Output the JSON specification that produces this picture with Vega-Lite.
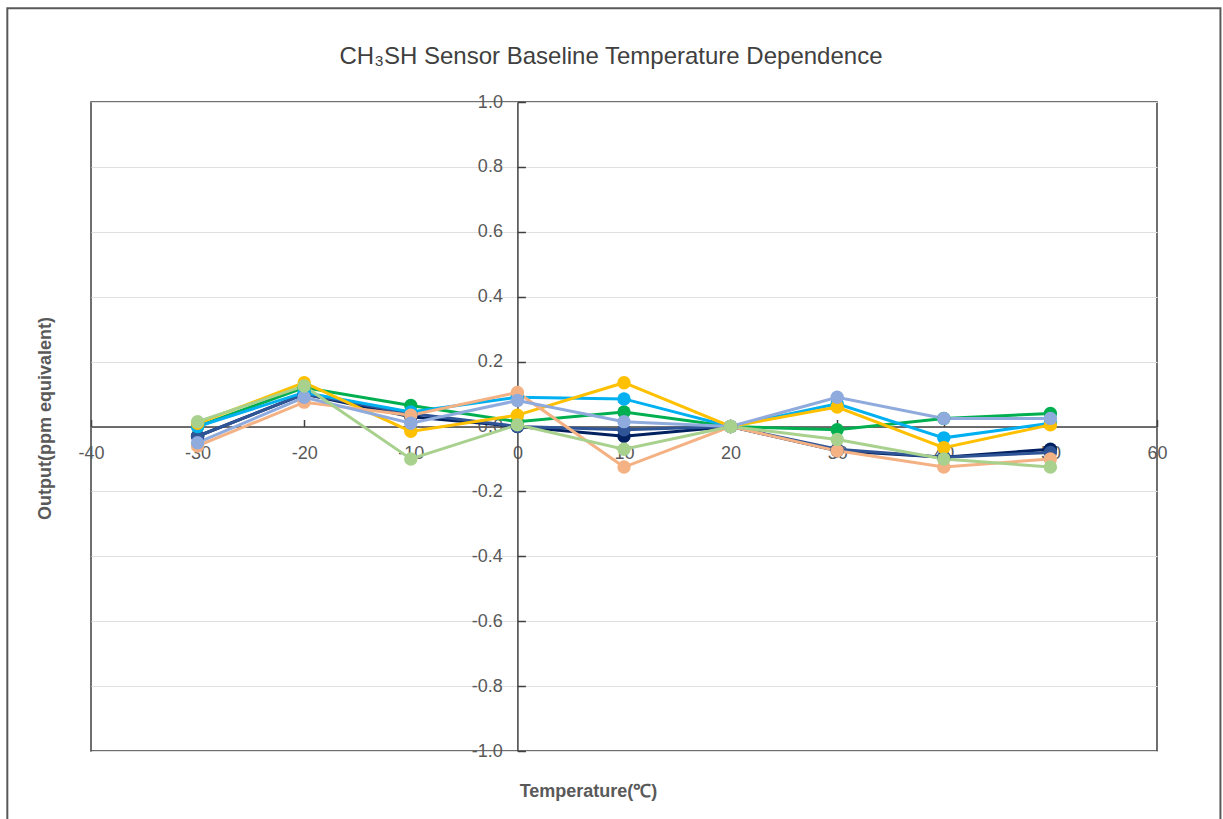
{
  "$schema": "https://vega.github.io/schema/vega-lite/v6.json",
  "width": 1066,
  "height": 649,
  "autosize": {"type": "none"},
  "padding": {"left": 91, "top": 102, "right": 66, "bottom": 68},
  "background": "white",
  "title": {
    "text": "CH₃SH Sensor Baseline Temperature Dependence",
    "font": "Liberation Sans",
    "fontSize": 24,
    "fontWeight": "normal",
    "color": "#404040",
    "anchor": "middle",
    "offset": -62,
    "dx": -13
  },
  "datasets": {
    "readings": [
      {"series": "S1", "temp": -30, "value": -0.03},
      {"series": "S1", "temp": -20, "value": 0.10},
      {"series": "S1", "temp": -10, "value": 0.03},
      {"series": "S1", "temp": 0, "value": 0.0},
      {"series": "S1", "temp": 10, "value": -0.03},
      {"series": "S1", "temp": 20, "value": 0.0},
      {"series": "S1", "temp": 30, "value": -0.075},
      {"series": "S1", "temp": 40, "value": -0.095},
      {"series": "S1", "temp": 50, "value": -0.07},
      {"series": "S2", "temp": -30, "value": -0.03},
      {"series": "S2", "temp": -20, "value": 0.10},
      {"series": "S2", "temp": -10, "value": 0.04},
      {"series": "S2", "temp": 0, "value": 0.0},
      {"series": "S2", "temp": 10, "value": -0.01},
      {"series": "S2", "temp": 20, "value": 0.0},
      {"series": "S2", "temp": 30, "value": -0.07},
      {"series": "S2", "temp": 40, "value": -0.095},
      {"series": "S2", "temp": 50, "value": -0.08},
      {"series": "S3", "temp": -30, "value": 0.0},
      {"series": "S3", "temp": -20, "value": 0.12},
      {"series": "S3", "temp": -10, "value": 0.065},
      {"series": "S3", "temp": 0, "value": 0.015},
      {"series": "S3", "temp": 10, "value": 0.045},
      {"series": "S3", "temp": 20, "value": 0.0},
      {"series": "S3", "temp": 30, "value": -0.01},
      {"series": "S3", "temp": 40, "value": 0.025},
      {"series": "S3", "temp": 50, "value": 0.04},
      {"series": "S4", "temp": -30, "value": 0.0},
      {"series": "S4", "temp": -20, "value": 0.105},
      {"series": "S4", "temp": -10, "value": 0.045},
      {"series": "S4", "temp": 0, "value": 0.09},
      {"series": "S4", "temp": 10, "value": 0.085},
      {"series": "S4", "temp": 20, "value": 0.0},
      {"series": "S4", "temp": 30, "value": 0.07},
      {"series": "S4", "temp": 40, "value": -0.035},
      {"series": "S4", "temp": 50, "value": 0.01},
      {"series": "S5", "temp": -30, "value": 0.01},
      {"series": "S5", "temp": -20, "value": 0.135},
      {"series": "S5", "temp": -10, "value": -0.015},
      {"series": "S5", "temp": 0, "value": 0.035},
      {"series": "S5", "temp": 10, "value": 0.135},
      {"series": "S5", "temp": 20, "value": 0.0},
      {"series": "S5", "temp": 30, "value": 0.06},
      {"series": "S5", "temp": 40, "value": -0.065},
      {"series": "S5", "temp": 50, "value": 0.005},
      {"series": "S6", "temp": -30, "value": -0.06},
      {"series": "S6", "temp": -20, "value": 0.075},
      {"series": "S6", "temp": -10, "value": 0.035},
      {"series": "S6", "temp": 0, "value": 0.105},
      {"series": "S6", "temp": 10, "value": -0.125},
      {"series": "S6", "temp": 20, "value": 0.0},
      {"series": "S6", "temp": 30, "value": -0.075},
      {"series": "S6", "temp": 40, "value": -0.125},
      {"series": "S6", "temp": 50, "value": -0.10},
      {"series": "S7", "temp": -30, "value": -0.05},
      {"series": "S7", "temp": -20, "value": 0.09},
      {"series": "S7", "temp": -10, "value": 0.01},
      {"series": "S7", "temp": 0, "value": 0.08},
      {"series": "S7", "temp": 10, "value": 0.015},
      {"series": "S7", "temp": 20, "value": 0.0},
      {"series": "S7", "temp": 30, "value": 0.09},
      {"series": "S7", "temp": 40, "value": 0.025},
      {"series": "S7", "temp": 50, "value": 0.025},
      {"series": "S8", "temp": -30, "value": 0.015},
      {"series": "S8", "temp": -20, "value": 0.125},
      {"series": "S8", "temp": -10, "value": -0.10},
      {"series": "S8", "temp": 0, "value": 0.005},
      {"series": "S8", "temp": 10, "value": -0.07},
      {"series": "S8", "temp": 20, "value": 0.0},
      {"series": "S8", "temp": 30, "value": -0.04},
      {"series": "S8", "temp": 40, "value": -0.10},
      {"series": "S8", "temp": 50, "value": -0.125}
    ],
    "frame": [{"left": -47.85, "right": 65.95, "top": 1.289, "bottom": -1.4}]
  },
  "layer": [
    {
      "data": {"name": "frame"},
      "mark": {"type": "rect", "fill": null, "stroke": "#595959", "strokeWidth": 2, "clip": false},
      "encoding": {
        "x": {"field": "left", "type": "quantitative", "scale": {"domain": [-40, 60]}},
        "x2": {"field": "right"},
        "y": {"field": "top", "type": "quantitative", "scale": {"domain": [-1, 1]}},
        "y2": {"field": "bottom"}
      }
    },
    {
      "data": {"name": "readings"},
      "layer": [
        {
          "mark": {"type": "line", "strokeWidth": 3},
          "encoding": {}
        },
        {
          "mark": {"type": "circle", "size": 180, "opacity": 1},
          "encoding": {}
        }
      ],
      "encoding": {
        "x": {
          "field": "temp",
          "type": "quantitative",
          "scale": {"domain": [-40, 60], "nice": false},
          "axis": {
            "orient": "bottom",
            "offset": -324.5,
            "values": [-40, -30, -20, -10, 0, 10, 20, 30, 40, 50, 60],
            "labelExpr": "replace(datum.label, '−', '-')",
            "grid": false,
            "domainColor": "#404040",
            "domainWidth": 1.5,
            "tickColor": "#404040",
            "tickWidth": 1.5,
            "tickSize": -7,
            "labelPadding": 25,
            "labelFont": "Liberation Sans",
            "labelFontSize": 18,
            "labelColor": "#595959",
            "labelFlush": false,
            "labelOverlap": false,
            "title": "Temperature(℃)",
            "titleFont": "Liberation Sans",
            "titleFontSize": 18,
            "titleFontWeight": "bold",
            "titleColor": "#595959",
            "titleX": 497,
            "titleY": 365,
            "titleAlign": "center",
            "titleBaseline": "middle"
          }
        },
        "y": {
          "field": "value",
          "type": "quantitative",
          "scale": {"domain": [-1, 1], "nice": false},
          "axis": {
            "orient": "left",
            "offset": -426.4,
            "values": [-1, -0.8, -0.6, -0.4, -0.2, 0, 0.2, 0.4, 0.6, 0.8, 1],
            "format": ".1f",
            "labelExpr": "replace(datum.label, '−', '-')",
            "grid": true,
            "gridColor": "#e0e0e0",
            "gridWidth": 1,
            "domainColor": "#404040",
            "domainWidth": 1.5,
            "tickColor": "#404040",
            "tickWidth": 1.5,
            "tickSize": -8,
            "labelPadding": 23,
            "labelFont": "Liberation Sans",
            "labelFontSize": 18,
            "labelColor": "#595959",
            "labelFlush": false,
            "labelOverlap": false,
            "title": "Output(ppm equivalent)",
            "titleFont": "Liberation Sans",
            "titleFontSize": 18,
            "titleFontWeight": "bold",
            "titleColor": "#595959",
            "titleX": -472.4,
            "titleY": 316,
            "titleAngle": -90,
            "titleAlign": "center",
            "titleBaseline": "middle"
          }
        },
        "color": {
          "field": "series",
          "type": "nominal",
          "scale": {
            "domain": ["S1", "S2", "S3", "S4", "S5", "S6", "S7", "S8"],
            "range": ["#002060", "#2F5597", "#00B050", "#00B0F0", "#FFC000", "#F4B183", "#8FAADC", "#A9D18E"]
          },
          "legend": null
        }
      }
    }
  ],
  "config": {
    "view": {"stroke": "#404040", "strokeWidth": 1.5},
    "font": "Liberation Sans"
  }
}
